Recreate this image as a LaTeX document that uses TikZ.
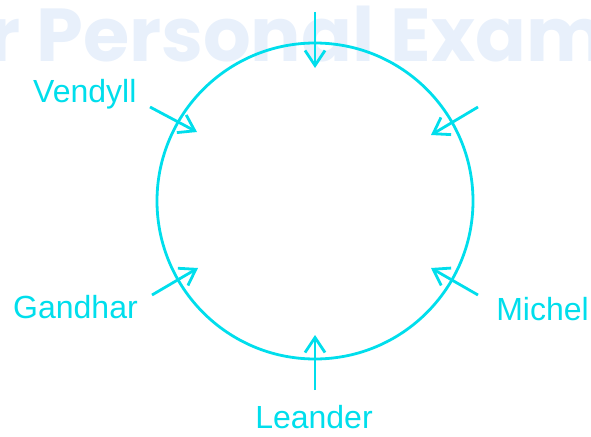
\documentclass[tikz,border=0pt]{standalone}
\usepackage{fontspec}
\setmainfont{Liberation Sans}
\newfontfamily\markfont{Poppins}
\usepackage{tikz}
\usetikzlibrary{positioning,arrows.meta}
\definecolor{CyanLine}{RGB}{0,222,236}
\definecolor{MarkBlue}{RGB}{232,240,251}

\begin{document}
\begin{tikzpicture}[
    x=1pt, y=-1pt,
    ring/.style={draw=CyanLine, line width=2.8pt},
    pointer/.style={draw=CyanLine, line width=2.8pt, -{Straight Barb[length=15pt, width=20pt, line width=2.8pt]}},
    seat/.style={text=CyanLine, font=\fontsize{32}{38}\selectfont, inner sep=0pt}
]
\useasboundingbox (0,0) rectangle (591,436);
\clip (0,0) rectangle (591,436);
% faint watermark
\node[anchor=base west, inner sep=0pt, text=MarkBlue, font=\markfont\bfseries\fontsize{75}{85}\selectfont] (mark) at (-12,62) {r Personal Exam};
% the round table
\coordinate (c) at (315,201);
\draw[ring] (c) circle[radius=158];
% who faces the centre
\coordinate (t1) at (315,12);   \coordinate (h1) at (315,68);
\coordinate (t2) at (478,107);  \coordinate (h2) at (431,135);
\coordinate (t3) at (478,295);  \coordinate (h3) at (431,268);
\coordinate (t4) at (315,390);  \coordinate (h4) at (315,335);
\coordinate (t5) at (152,295);  \coordinate (h5) at (198,268);
\coordinate (t6) at (150,107);  \coordinate (h6) at (197,132);
\foreach \i in {1,...,6}
    \draw[pointer] (t\i) -- (h\i);
% names
\node[seat, anchor=base west] (vendyll) at (33,102) {Vendyll};
\node[seat, anchor=base west] (gandhar) at (13,318) {Gandhar};
\node[seat, anchor=base east] (michel) at (589,320) {Michel};
\node[seat, anchor=base] (leander) at (314,428) {Leander};
\end{tikzpicture}
\end{document}
